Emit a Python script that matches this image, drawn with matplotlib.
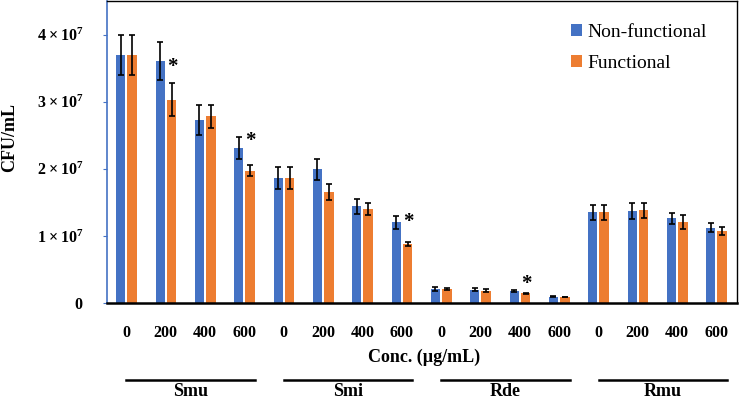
import numpy as np
import matplotlib
matplotlib.use("Agg")
import matplotlib.pyplot as plt
from matplotlib.patches import Patch
from matplotlib.lines import Line2D
from matplotlib.ticker import FuncFormatter
import matplotlib.transforms as mtransforms

plt.rcParams["font.family"] = ["Liberation Serif", "DejaVu Serif"]
plt.rcParams["mathtext.fontset"] = "custom"
plt.rcParams["mathtext.rm"] = "Liberation Serif"
plt.rcParams["mathtext.bf"] = "Liberation Serif:bold"

# data (CFU/mL, in units of 1e7)
groups = ["Smu", "Smi", "Rde", "Rmu"]
conc_labels = ["0", "200", "400", "600"]
nonfunc = [3.70, 3.61, 2.73, 2.31,
           1.86, 1.99, 1.44, 1.20,
           0.21, 0.20, 0.178, 0.094,
           1.35, 1.37, 1.26, 1.125]
nonfunc_err = [0.30, 0.28, 0.22, 0.17,
               0.16, 0.16, 0.11, 0.10,
               0.025, 0.025, 0.02, 0.006,
               0.11, 0.12, 0.08, 0.07]
func = [3.70, 3.03, 2.78, 1.97,
        1.86, 1.65, 1.40, 0.877,
        0.21, 0.183, 0.144, 0.09,
        1.35, 1.38, 1.21, 1.07]
func_err = [0.30, 0.25, 0.17, 0.08,
            0.16, 0.12, 0.09, 0.03,
            0.02, 0.02, 0.01, 0.005,
            0.11, 0.11, 0.10, 0.06]
# significance marks: bar index and height
star_idx = [1, 3, 7, 10]
star_y = [3.52, 2.41, 1.20, 0.28]

blue = "#4472C4"
orange = "#ED7D31"
scale = 1e7

x = np.arange(len(nonfunc))
fig = plt.figure(figsize=(7.39, 4.0), dpi=100)
ax = fig.add_axes([0.1448, 0.2425, 0.9973 - 0.1448, 0.9975 - 0.2425])

err_kw = dict(ecolor="black", elinewidth=1.2, capthick=1.2)
ax.bar(x - 0.145, np.array(nonfunc) * scale, width=0.23, color=blue,
       yerr=np.array(nonfunc_err) * scale, capsize=2.5, error_kw=err_kw)
ax.bar(x + 0.145, np.array(func) * scale, width=0.25, color=orange,
       yerr=np.array(func_err) * scale, capsize=2.5, error_kw=err_kw)

for i, yv in zip(star_idx, star_y):
    ax.text(x[i] + 0.16, yv * scale, "*", ha="center", va="center",
            fontsize=15, fontweight="bold")

ax.set_xlim(-0.495, 15.52)
ax.set_ylim(0, 4.5e7)

def yfmt(v, pos):
    if v == 0:
        return "$\\mathbf{0}$"
    return "$\\mathbf{%d \\times 10^{7}}$" % round(v / 1e7)

ax.set_yticks([0, 1e7, 2e7, 3e7, 4e7])
ax.yaxis.set_major_formatter(FuncFormatter(yfmt))
ax.tick_params(axis="y", length=3, color=blue, pad=14, labelsize=11.5)
ax.set_xticks(x)
ax.set_xticklabels(conc_labels * 4, fontweight="bold", fontsize=11.5)
ax.tick_params(axis="x", length=0, pad=16)

for side in ["top", "right"]:
    ax.spines[side].set_color("black")
    ax.spines[side].set_linewidth(1.0)
ax.spines["left"].set_color(blue)
ax.spines["left"].set_linewidth(1.2)
ax.spines["bottom"].set_color("black")
ax.spines["bottom"].set_linewidth(1.8)

fig.text(10 / 739, 1 - 138 / 400, "CFU/mL", rotation=90, ha="center", va="center",
         fontsize=13, fontweight="bold")
fig.text(424 / 739, 1 - 357 / 400, "Conc. (\u00b5g/mL)", ha="center", va="center",
         fontsize=13, fontweight="bold")

trans = mtransforms.blended_transform_factory(ax.transData, fig.transFigure)
for g, name in enumerate(groups):
    x0 = x[4 * g]
    x1 = x[4 * g + 3] + 0.27
    fig.add_artist(Line2D([x0, x1], [1 - 380 / 400] * 2, transform=trans,
                          color="black", linewidth=1.8))
    fig.text((x0 + x1) / 2, 1 - 392 / 400, name, transform=trans, ha="center",
             va="center", fontsize=13, fontweight="bold")

handles = [Patch(facecolor=blue, label="Non-functional"),
           Patch(facecolor=orange, label="Functional")]
ax.legend(handles=handles, loc="upper left", bbox_to_anchor=(571 / 739, 1 - 24 / 400),
          bbox_transform=fig.transFigure, frameon=False, fontsize=14,
          handlelength=0.55, handleheight=0.55, handletextpad=0.3,
          labelspacing=0.7, borderaxespad=0, borderpad=0)

fig.savefig("out.png", dpi=100)
